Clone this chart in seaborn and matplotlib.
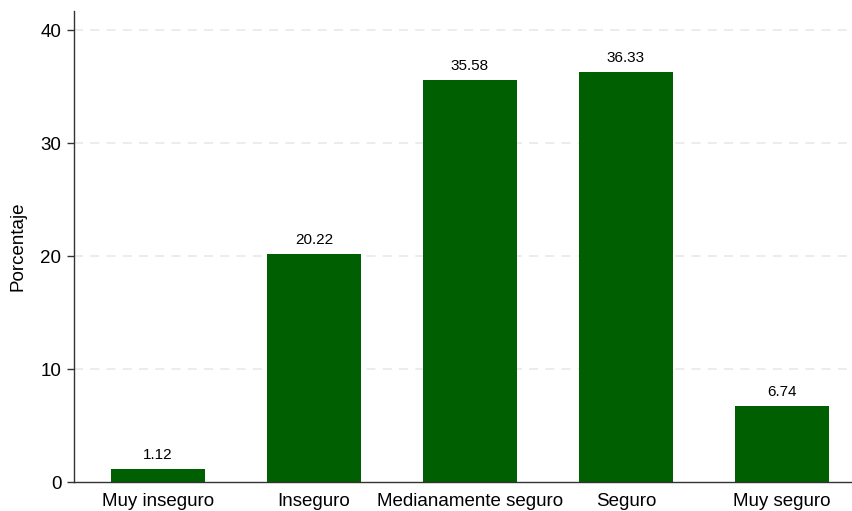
import matplotlib
matplotlib.use("Agg")
import matplotlib.pyplot as plt
import seaborn as sns
import pandas as pd

categories = ["Muy inseguro", "Inseguro", "Medianamente seguro", "Seguro", "Muy seguro"]
values = [1.12, 20.22, 35.58, 36.33, 6.74]
yticks = [0, 10, 20, 30, 40]

sns.set_style("white")
plt.rcParams['font.family'] = ['Liberation Sans', 'DejaVu Sans']
plt.rcParams['text.color'] = 'black'
plt.rcParams['axes.labelcolor'] = 'black'
plt.rcParams['xtick.color'] = 'black'
plt.rcParams['ytick.color'] = 'black'

df = pd.DataFrame({"cat": categories, "val": values})

fig = plt.figure(figsize=(8.53, 5.11), dpi=100)
ax = fig.add_axes([74/853, 29/511, 1 - 74/853, (482-11)/511])

sns.barplot(data=df, x="cat", y="val", color="#005f00", saturation=1, width=0.603,
            linewidth=0, ax=ax)

for i, v in enumerate(values):
    ax.annotate(f"{v:.2f}", (i, v), xytext=(0, 5), textcoords="offset points",
                ha="center", va="bottom", fontsize=11, color="black")

ax.set_ylim(0, 41.7)
ax.set_xlim(-0.538, 4.455)
ax.set_yticks(yticks)
for t in yticks[1:]:
    ax.axhline(t, color="#ebebeb", lw=1.3, ls=(0, (5, 4)), zorder=0)
ax.set_xlabel("")
ax.set_ylabel("Porcentaje", fontsize=13.5, labelpad=10)
sns.despine(ax=ax)
for s in ["left", "bottom"]:
    ax.spines[s].set_color("#333333")
    ax.spines[s].set_linewidth(1.0)
ax.tick_params(axis="y", length=5, width=1, color="#333333", labelcolor="black",
               labelsize=13.5, direction="out", left=True, pad=4)
ax.tick_params(axis="x", length=0, labelsize=13.5, labelcolor="black", pad=8)

fig.savefig("out.png", dpi=100)
